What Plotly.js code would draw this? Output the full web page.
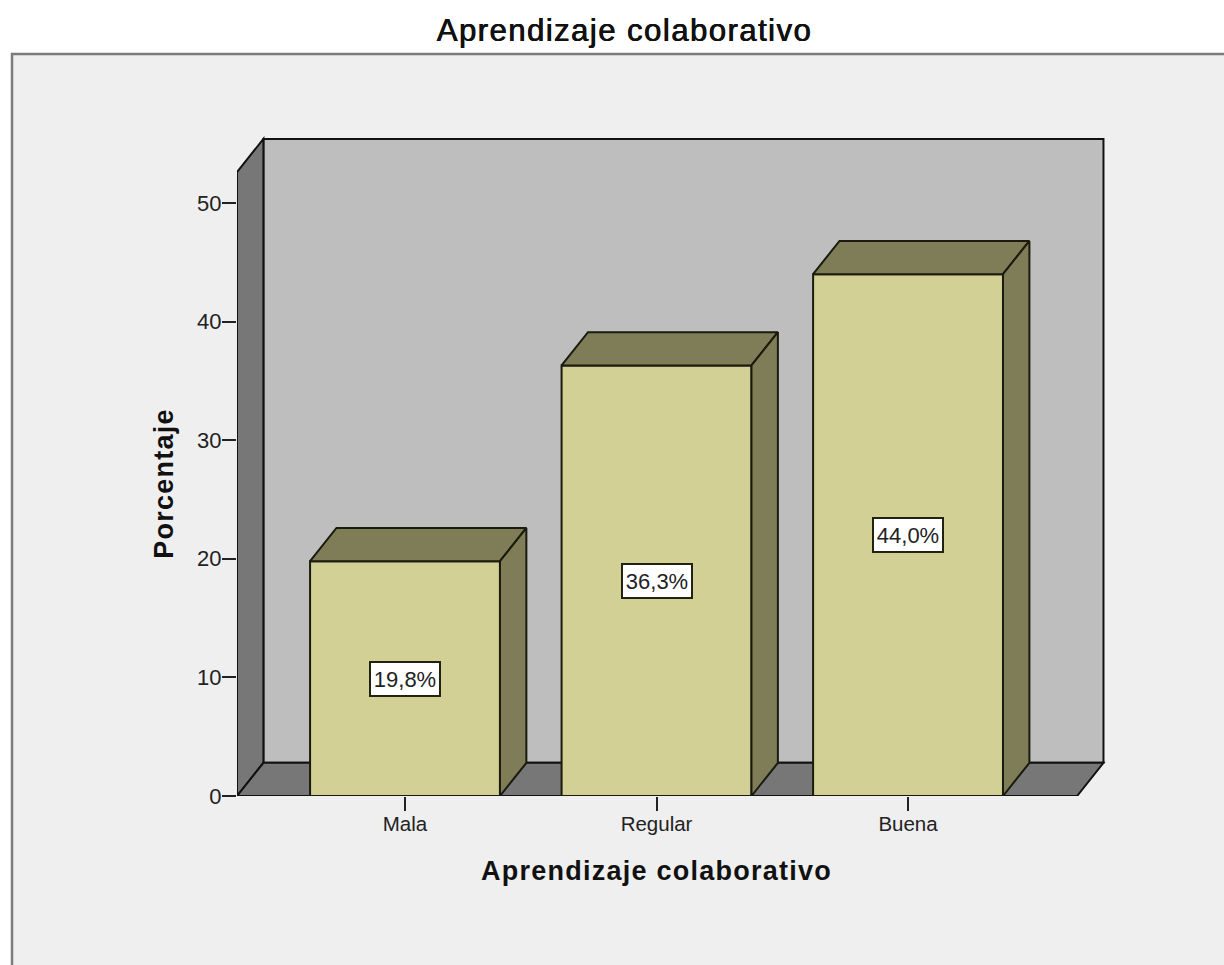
<!DOCTYPE html>
<html>
<head>
<meta charset="utf-8">
<script src="https://cdn.plot.ly/plotly-3.0.1.min.js"></script>
<style>
html,body{margin:0;padding:0;background:#fff}
.xtitle,.ytitle{letter-spacing:1.25px}
.gtitle{letter-spacing:1.5px}
</style>
</head>
<body>
<div id="chart" style="width:1224px;height:965px"></div>
<script>
const categories = ["Mala", "Regular", "Buena"];
const percentages = [19.8, 36.3, 44.0];
const percentLabels = ["19,8%", "36,3%", "44,0%"];
const yTicks = [0, 10, 20, 30, 40, 50];
const chartTitle = "Aprendizaje colaborativo";
const xTitle = "Aprendizaje colaborativo";
const yTitle = "Porcentaje";

const positions = categories.map((_, i) => i);
const barWidth = 0.755;
const depthX = 0.105;   // 3-D depth in x-axis units
const depthY = 2.8;     // 3-D depth in y-axis units
const xMin = -0.668, xMax = 2.795;
const yMax = 55.73;
const floorRight = 2.672;
const wallTop = 52.6;

const W = 1224, H = 965;
const m = {l: 237, r: 116, t: 135, b: 169};
const pw = W - m.l - m.r, ph = H - m.t - m.b;

const FRONT = "#d3d095", SHADE = "#7f7d57", WALL = "#bebebe", SIDE = "#777777", INK = "#111111";
const FONT = "Liberation Sans, Arial, sans-serif";

const face = (xs, ys, color) => ({
  type: "scatter", mode: "lines", x: xs, y: ys, fill: "toself", fillcolor: color,
  line: {color: "#1a1a0e", width: 2}, hoverinfo: "skip", showlegend: false, cliponaxis: false
});

const traces = [{
  type: "bar", x: positions, y: percentages, width: barWidth,
  marker: {color: FRONT, line: {color: "#1a1a0e", width: 2}},
  hoverinfo: "skip", showlegend: false
}];
positions.forEach((p, i) => {
  const l = p - barWidth / 2, r = p + barWidth / 2, v = percentages[i];
  traces.push(face([l, l + depthX, r + depthX, r, l], [v, v + depthY, v + depthY, v, v], SHADE));
  traces.push(face([r, r + depthX, r + depthX, r, r], [0, depthY, v + depthY, v, 0], SHADE));
});

const poly = (pts, fill) => ({
  type: "path", xref: "x", yref: "y", layer: "below", fillcolor: fill,
  line: {color: INK, width: 2},
  path: "M" + pts.map(p => p.join(",")).join("L") + "Z"
});
const backLeft = xMin + depthX, backRight = floorRight + depthX;
const shapes = [
  {type: "rect", xref: "paper", yref: "paper", layer: "below", fillcolor: "#efefef",
   line: {color: "#7c7c7c", width: 2.5},
   x0: (12 - m.l) / pw, x1: (W + 10 - m.l) / pw,
   y0: (H - m.b - H - 10) / ph, y1: (H - m.b - 54) / ph},
  poly([[backLeft, depthY], [backRight, depthY], [backRight, wallTop + depthY], [backLeft, wallTop + depthY]], WALL),
  poly([[xMin, 0], [backLeft, depthY], [backLeft, wallTop + depthY], [xMin, wallTop]], SIDE),
  poly([[xMin, 0], [floorRight, 0], [backRight, depthY], [backLeft, depthY]], SIDE)
];

const annotations = positions.map((p, i) => ({
  x: p, y: percentages[i] / 2, xref: "x", yref: "y", text: percentLabels[i], showarrow: false,
  bgcolor: "#ffffff", bordercolor: "#222211", borderwidth: 2, borderpad: 0,
  width: 68, height: 32, align: "center", valign: "middle",
  font: {family: FONT, size: 22, color: "#222222"}
}));

const layout = {
  width: W, height: H, autosize: false, margin: m,
  paper_bgcolor: "#ffffff", plot_bgcolor: "rgba(0,0,0,0)",
  font: {family: FONT, color: "#222222"},
  title: {text: chartTitle, x: 624.5 / W, xanchor: "center", y: 1 - 30 / H, yanchor: "middle",
          font: {size: 31, color: "#111111", shadow: "0.5px 0 0 #111111, -0.3px 0 0 #111111"}},
  xaxis: {range: [xMin, xMax], tickmode: "array", tickvals: positions, ticktext: categories,
          showgrid: false, zeroline: false, showline: false, ticks: "outside", ticklen: 14, tickwidth: 2,
          tickcolor: "#222222", tickfont: {size: 20.5, color: "#222222"}, ticklabelstandoff: -5,
          title: {text: "<b>" + xTitle + "</b>", standoff: 20, font: {size: 27, color: "#111111"}}},
  yaxis: {range: [0, yMax], tickmode: "array", tickvals: yTicks, ticktext: yTicks.map(String),
          showgrid: false, zeroline: false, showline: false, ticks: "outside", ticklen: 14, tickwidth: 2,
          tickcolor: "#222222", tickfont: {size: 22, color: "#222222"}, ticklabelstandoff: -4,
          title: {text: "<b>" + yTitle + "</b>", standoff: 22, font: {size: 27, color: "#111111"}}},
  shapes: shapes, annotations: annotations, bargap: 0
};
Plotly.newPlot("chart", traces, layout, {displayModeBar: false, staticPlot: true}).then(gd => {
  // The reference centres its axis titles on the front of the plot, not on the whole wall.
  const nudge = (sel, dx, dy) => {
    const el = gd.querySelector(sel);
    if (el) el.setAttribute("transform", `translate(${dx},${dy}) ${el.getAttribute("transform") || ""}`);
  };
  nudge(".xtitle", -16, 7);
  nudge(".ytitle", 7, 18);
});
</script>
</body>
</html>
